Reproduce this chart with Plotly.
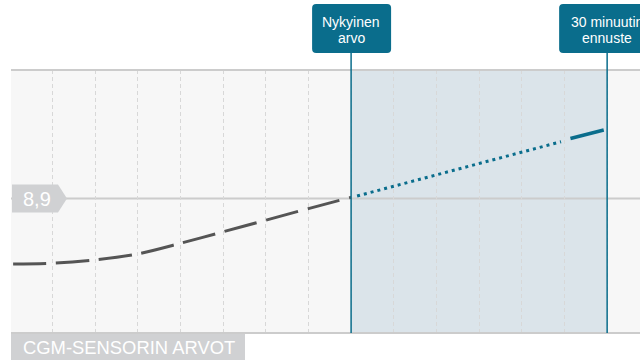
import plotly.graph_objects as go

# minuutteja nykyhetkestä, arvot mmol/l
past_min = [-39.6, -35, -30, -25, -20, -15, -10, -5, 0]
past_val = [8.245, 8.253, 8.287, 8.346, 8.452, 8.567, 8.683, 8.799, 8.912]

forecast_dot_min = [0.7, 24.6]
forecast_dot_val = [8.925, 9.468]
forecast_end_min = [25.7, 29.6]
forecast_end_val = [9.50, 9.585]

current_value = 8.9
current_label = "8,9"
forecast_horizon = 30

TEAL = '#0a6d8c'
GREY_BOX = '#d0d1d3'
FONT = 'Liberation Sans, Arial, sans-serif'


def rounded_box(x0, x1, y0, y1, r):
    return (f"M {x0 + r},{y0} L {x1 - r},{y0} Q {x1},{y0} {x1},{y0 + r} "
            f"L {x1},{y1 - r} Q {x1},{y1} {x1 - r},{y1} L {x0 + r},{y1} "
            f"Q {x0},{y1} {x0},{y1 - r} L {x0},{y0 + r} Q {x0},{y0} {x0 + r},{y0} Z")


fig = go.Figure()

fig.add_trace(go.Scatter(
    x=past_min, y=past_val, mode='lines',
    line=dict(color='#555555', width=3, dash='33px,10px', shape='spline', smoothing=0.8),
    showlegend=False, hoverinfo='skip'))
fig.add_trace(go.Scatter(
    x=forecast_dot_min, y=forecast_dot_val, mode='lines',
    line=dict(color=TEAL, width=3, dash='3px,4px'),
    showlegend=False, hoverinfo='skip'))
fig.add_trace(go.Scatter(
    x=forecast_end_min, y=forecast_end_val, mode='lines',
    line=dict(color=TEAL, width=3.5),
    showlegend=False, hoverinfo='skip'))

shapes = [
    # ennustealue
    dict(type='rect', xref='x', yref='paper', x0=0, x1=forecast_horizon, y0=0, y1=1,
         fillcolor='#dbe4ea', line_width=0, layer='below'),
    # nykyarvon vaakaviiva
    dict(type='line', xref='paper', yref='y', x0=0, x1=1, y0=current_value, y1=current_value,
         line=dict(color='#cccccc', width=2), layer='between'),
    # reunat
    dict(type='line', xref='paper', yref='paper', x0=0, x1=1, y0=1, y1=1,
         line=dict(color='#cccccc', width=2)),
    dict(type='line', xref='paper', yref='paper', x0=0, x1=1, y0=0, y1=0,
         line=dict(color='#cccccc', width=2)),
]
for xv, half in [(0, (-39, 40)), (forecast_horizon, (-48, 48))]:
    shapes.append(dict(type='line', xref='x', yref='paper', x0=xv, x1=xv, y0=0, y1=1.065,
                       line=dict(color=TEAL, width=1.5)))
    shapes.append(dict(type='path', xref='x', yref='paper', xsizemode='pixel', ysizemode='pixel',
                       xanchor=xv, yanchor=1, path=rounded_box(half[0], half[1], 17, 66, 4),
                       fillcolor=TEAL, line_width=0))
# arvomerkki
shapes.append(dict(type='path', xref='paper', yref='y', xsizemode='pixel', ysizemode='pixel',
                   xanchor=0, yanchor=current_value,
                   path='M 1,-14 L 47,-14 L 56,0 L 47,14 L 1,14 Z',
                   fillcolor=GREY_BOX, line_width=0))
# alaotsikon tausta
shapes.append(dict(type='path', xref='paper', yref='paper', xsizemode='pixel', ysizemode='pixel',
                   xanchor=0, yanchor=0, path='M 0,-1 L 234,-1 L 234,-28 L 0,-28 Z',
                   fillcolor=GREY_BOX, line_width=0))

annotations = [
    dict(text='Nykyinen', x=0, xref='x', y=1, yref='paper', yshift=48),
    dict(text='arvo', x=0, xref='x', y=1, yref='paper', yshift=32.5),
    dict(text='30 minuutin', x=forecast_horizon, xref='x', y=1, yref='paper', yshift=48),
    dict(text='ennuste', x=forecast_horizon, xref='x', y=1, yref='paper', yshift=32.5),
]
for a in annotations:
    a.update(showarrow=False, xanchor='center', yanchor='middle',
             font=dict(family=FONT, size=14, color='white'))
annotations.append(dict(text=current_label, x=0, xref='paper', y=current_value, yref='y',
                        xshift=25.5, showarrow=False, xanchor='center', yanchor='middle',
                        font=dict(family=FONT, size=20, color='white')))
annotations.append(dict(text='CGM-SENSORIN ARVOT', x=0, xref='paper', y=0, yref='paper',
                        xshift=10, yshift=-14, showarrow=False, xanchor='left', yanchor='middle',
                        font=dict(family=FONT, size=18.4, color='white')))

fig.update_layout(
    width=640, height=360,
    margin=dict(l=11, r=0, t=70, b=27),
    paper_bgcolor='white', plot_bgcolor='#f7f7f7',
    shapes=shapes, annotations=annotations,
    font=dict(family=FONT),
)
fig.update_xaxes(range=[-39.85, 33.85], tick0=0, dtick=5, showticklabels=False,
                 showgrid=True, gridcolor='#d8d8d8', gridwidth=1, griddash='4px,3px',
                 zeroline=False, showline=False, ticks='')
fig.update_yaxes(range=[7.555, 10.185], showticklabels=False, showgrid=False,
                 zeroline=False, showline=False, ticks='')

# sivun oletusmarginaali pois, jotta kuva alkaa vasemmasta yläkulmasta
fig.write_html("out.html", config={'displayModeBar': False},
               post_script="document.body.style.margin='0';")
